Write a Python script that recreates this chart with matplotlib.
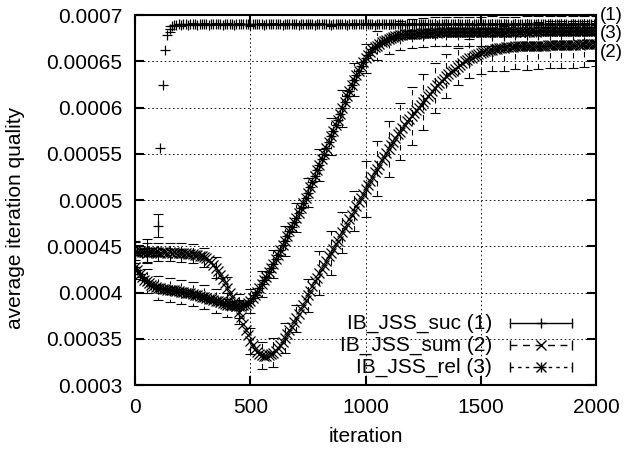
import numpy as np
import matplotlib
matplotlib.use("Agg")
import matplotlib.pyplot as plt
from matplotlib.ticker import FuncFormatter

plt.rcParams['font.family'] = ['Liberation Sans', 'DejaVu Sans']
plt.rcParams['font.size'] = 15

# iterations sampled every 10 steps, error bars drawn on every 5th sample
iteration = np.arange(0, 2001, 10)
ERR_EVERY = 5

# average iteration quality, in units of 1e-4
suc = [4.44, 4.45, 4.44, 4.43, 4.44, 4.45, 4.44, 4.44, 4.43, 4.44,
       4.72, 5.56, 6.24, 6.62, 6.78, 6.85, 6.88, 6.89, 6.89, 6.90,
       6.89, 6.90, 6.90, 6.89, 6.90, 6.90, 6.90, 6.89, 6.90, 6.90,
       6.90, 6.90, 6.89, 6.90, 6.90, 6.90, 6.90, 6.90, 6.89, 6.90,
       6.90, 6.90, 6.90, 6.89, 6.90, 6.90, 6.90, 6.90, 6.90, 6.90,
       6.89, 6.90, 6.90, 6.90, 6.90, 6.90, 6.89, 6.90, 6.90, 6.90,
       6.90, 6.90, 6.90, 6.90, 6.89, 6.90, 6.90, 6.90, 6.90, 6.90,
       6.90, 6.89, 6.90, 6.90, 6.90, 6.90, 6.90, 6.90, 6.89, 6.90,
       6.90, 6.90, 6.90, 6.90, 6.90, 6.89, 6.90, 6.90, 6.90, 6.90,
       6.90, 6.90, 6.89, 6.90, 6.90, 6.90, 6.90, 6.90, 6.90, 6.90,
       6.90, 6.90, 6.90, 6.90, 6.89, 6.90, 6.90, 6.90, 6.90, 6.90,
       6.90, 6.90, 6.90, 6.90, 6.90, 6.90, 6.90, 6.89, 6.90, 6.90,
       6.90, 6.90, 6.90, 6.90, 6.90, 6.90, 6.90, 6.90, 6.90, 6.90,
       6.90, 6.89, 6.90, 6.90, 6.90, 6.90, 6.90, 6.90, 6.90, 6.90,
       6.90, 6.90, 6.90, 6.90, 6.90, 6.90, 6.89, 6.90, 6.90, 6.90,
       6.90, 6.90, 6.90, 6.90, 6.90, 6.90, 6.90, 6.90, 6.90, 6.90,
       6.90, 6.90, 6.90, 6.89, 6.90, 6.90, 6.90, 6.90, 6.90, 6.90,
       6.90, 6.90, 6.90, 6.90, 6.90, 6.90, 6.90, 6.90, 6.90, 6.90,
       6.90, 6.90, 6.90, 6.90, 6.90, 6.90, 6.90, 6.90, 6.89, 6.90,
       6.90, 6.90, 6.90, 6.90, 6.90, 6.90, 6.90, 6.90, 6.90, 6.90,
       6.90]

summ = [4.45, 4.44, 4.45, 4.44, 4.44, 4.43, 4.44, 4.44, 4.45, 4.44,
        4.44, 4.43, 4.44, 4.44, 4.43, 4.44, 4.43, 4.44, 4.43, 4.43,
        4.43, 4.43, 4.43, 4.42, 4.42, 4.42, 4.41, 4.41, 4.40, 4.39,
        4.38, 4.37, 4.35, 4.33, 4.30, 4.27, 4.23, 4.19, 4.15, 4.10,
        4.05, 4.00, 3.95, 3.90, 3.85, 3.79, 3.73, 3.66, 3.60, 3.54,
        3.48, 3.43, 3.39, 3.36, 3.34, 3.32, 3.31, 3.31, 3.32, 3.33,
        3.35, 3.37, 3.40, 3.43, 3.47, 3.51, 3.55, 3.59, 3.63, 3.68,
        3.72, 3.77, 3.82, 3.87, 3.92, 3.97, 4.02, 4.07, 4.12, 4.16,
        4.21, 4.25, 4.30, 4.34, 4.39, 4.43, 4.47, 4.52, 4.56, 4.61,
        4.65, 4.70, 4.74, 4.79, 4.84, 4.88, 4.93, 4.98, 5.02, 5.07,
        5.12, 5.16, 5.21, 5.25, 5.30, 5.34, 5.38, 5.43, 5.47, 5.51,
        5.55, 5.59, 5.63, 5.67, 5.71, 5.74, 5.78, 5.81, 5.85, 5.88,
        5.91, 5.94, 5.97, 6.00, 6.03, 6.06, 6.09, 6.12, 6.15, 6.18,
        6.21, 6.24, 6.26, 6.29, 6.31, 6.34, 6.36, 6.38, 6.40, 6.42,
        6.44, 6.46, 6.48, 6.50, 6.51, 6.53, 6.54, 6.56, 6.57, 6.58,
        6.59, 6.60, 6.61, 6.61, 6.62, 6.62, 6.63, 6.63, 6.64, 6.64,
        6.64, 6.65, 6.65, 6.65, 6.65, 6.66, 6.66, 6.66, 6.66, 6.66,
        6.66, 6.67, 6.67, 6.67, 6.67, 6.67, 6.67, 6.67, 6.67, 6.68,
        6.68, 6.68, 6.68, 6.68, 6.68, 6.68, 6.68, 6.68, 6.68, 6.68,
        6.68, 6.68, 6.69, 6.68, 6.69, 6.69, 6.69, 6.69, 6.69, 6.69,
        6.69]

rel = [4.28, 4.24, 4.20, 4.17, 4.14, 4.12, 4.10, 4.08, 4.07, 4.06,
       4.05, 4.05, 4.04, 4.04, 4.03, 4.03, 4.03, 4.03, 4.02, 4.02,
       4.01, 4.01, 4.00, 4.00, 3.99, 3.98, 3.97, 3.97, 3.96, 3.95,
       3.95, 3.94, 3.93, 3.93, 3.92, 3.91, 3.91, 3.90, 3.89, 3.88,
       3.87, 3.87, 3.86, 3.86, 3.85, 3.85, 3.85, 3.86, 3.87, 3.89,
       3.91, 3.94, 3.97, 4.01, 4.05, 4.09, 4.13, 4.17, 4.22, 4.26,
       4.31, 4.36, 4.41, 4.46, 4.51, 4.56, 4.61, 4.66, 4.71, 4.76,
       4.81, 4.86, 4.91, 4.97, 5.02, 5.08, 5.14, 5.20, 5.26, 5.32,
       5.38, 5.44, 5.50, 5.56, 5.63, 5.69, 5.75, 5.81, 5.87, 5.93,
       5.99, 6.06, 6.12, 6.18, 6.24, 6.30, 6.35, 6.40, 6.45, 6.49,
       6.53, 6.57, 6.60, 6.63, 6.65, 6.67, 6.69, 6.71, 6.72, 6.73,
       6.74, 6.75, 6.76, 6.77, 6.77, 6.78, 6.78, 6.79, 6.79, 6.79,
       6.80, 6.80, 6.80, 6.80, 6.81, 6.81, 6.81, 6.81, 6.81, 6.81,
       6.82, 6.81, 6.82, 6.82, 6.82, 6.82, 6.82, 6.82, 6.82, 6.82,
       6.82, 6.82, 6.82, 6.82, 6.82, 6.82, 6.82, 6.82, 6.82, 6.82,
       6.82, 6.82, 6.82, 6.82, 6.82, 6.83, 6.82, 6.82, 6.82, 6.82,
       6.82, 6.82, 6.83, 6.82, 6.82, 6.82, 6.83, 6.82, 6.83, 6.82,
       6.83, 6.82, 6.83, 6.83, 6.82, 6.83, 6.83, 6.83, 6.83, 6.83,
       6.83, 6.83, 6.83, 6.83, 6.83, 6.83, 6.83, 6.83, 6.83, 6.83,
       6.83, 6.83, 6.83, 6.83, 6.83, 6.83, 6.83, 6.83, 6.83, 6.83,
       6.83]

# error bar half-widths at iterations 0, 50, ..., 2000 (units of 1e-4)
suc_err = [0.12, 0.13, 0.125, 0.03, 0.01, 0.01, 0.01, 0.01, 0.01, 0.01,
           0.01, 0.01, 0.01, 0.01, 0.01, 0.01, 0.01, 0.01, 0.01, 0.01,
           0.01, 0.01, 0.01, 0.01, 0.01, 0.01, 0.01, 0.01, 0.01, 0.01,
           0.01, 0.01, 0.01, 0.01, 0.01, 0.01, 0.01, 0.01, 0.01, 0.01,
           0.01]
summ_err = [0.10, 0.10, 0.10, 0.10, 0.10, 0.10, 0.10, 0.11, 0.12, 0.13,
            0.14, 0.15, 0.16, 0.16, 0.15, 0.18, 0.24, 0.24, 0.22, 0.22,
            0.30, 0.30, 0.30, 0.31, 0.31, 0.30, 0.27, 0.24, 0.20, 0.21,
            0.23, 0.23, 0.24, 0.24, 0.25, 0.25, 0.25, 0.25, 0.25, 0.25,
            0.24]
rel_err = [0.13, 0.13, 0.13, 0.13, 0.13, 0.13, 0.13, 0.13, 0.13, 0.13,
           0.13, 0.14, 0.15, 0.16, 0.16, 0.16, 0.17, 0.20, 0.20, 0.18,
           0.16, 0.16, 0.16, 0.16, 0.16, 0.16, 0.16, 0.16, 0.16, 0.16,
           0.16, 0.16, 0.16, 0.16, 0.16, 0.16, 0.16, 0.16, 0.16, 0.16,
           0.16]

labels = ['IB_JSS_suc (1)', 'IB_JSS_sum (2)', 'IB_JSS_rel (3)']
end_labels = ['(1)', '(3)', '(2)']
end_label_y = [7.00e-4, 6.80e-4, 6.60e-4]
yticks = [0.0003, 0.00035, 0.0004, 0.00045, 0.0005, 0.00055, 0.0006, 0.00065, 0.0007]
xticks = [0, 500, 1000, 1500, 2000]

markers = [['+'], ['x'], ['+', 'x']]
dashes = ['-', (0, (5, 4)), (0, (2.5, 3))]

fig = plt.figure(figsize=(6.25, 4.51), dpi=100)
ax = fig.add_axes([0.216, 0.1463, 0.7376, 0.8204])


def plot_series(vals, errs, mk, dash):
    y = np.array(vals) * 1e-4
    for m in mk:
        ax.plot(iteration, y, ls='none', marker=m, ms=7, mew=0.9, color='k')
    eb = ax.errorbar(iteration[::ERR_EVERY], y[::ERR_EVERY], yerr=np.array(errs) * 1e-4,
                     fmt='none', ecolor='k', elinewidth=0.8, capsize=3.5, capthick=0.8)
    eb[2][0].set_linestyle(dash)


for vals, errs, mk, dash in zip([suc, summ, rel], [suc_err, summ_err, rel_err], markers, dashes):
    plot_series(vals, errs, mk, dash)

ax.set_xlim(0, 2000)
ax.set_ylim(0.0003, 0.0007)
ax.set_xticks(xticks)
ax.set_yticks(yticks)
ax.yaxis.set_major_formatter(FuncFormatter(lambda v, p: f"{v:.5f}".rstrip('0')))
ax.tick_params(direction='in', length=6.5, width=1.5, top=True, right=True, pad=9)
ax.grid(True, color='k', ls=(0, (2, 3)), lw=0.6)
ax.set_axisbelow(True)
for s in ax.spines.values():
    s.set_linewidth(1.5)

# curve labels to the right of the plot
for lab, yv in zip(end_labels, end_label_y):
    ax.annotate(lab, xy=(1, yv), xycoords=('axes fraction', 'data'), xytext=(3, 0),
                textcoords='offset points', ha='left', va='center', fontsize=13.5,
                annotation_clip=False)

# gnuplot style key, bottom right
for i, (lab, mk, dash) in enumerate(zip(labels, markers, dashes)):
    yk = 0.1676 - i * 0.0595
    ax.text(0.774, yk, lab, transform=ax.transAxes, ha='right', va='center')
    ax.plot([0.813, 0.948], [yk, yk], transform=ax.transAxes, color='k', lw=1, ls=dash)
    ax.plot([0.813, 0.948], [yk, yk], transform=ax.transAxes, ls='none', marker='|',
            ms=7, mew=1, color='k')
    for m in mk:
        ax.plot([0.8805], [yk], transform=ax.transAxes, ls='none', marker=m, ms=7, mew=1, color='k')

fig.text(16 / 625, 1 - 218 / 451, 'average iteration quality',
         rotation=90, ha='center', va='center')
fig.text(366 / 625, 1 - 437 / 451, 'iteration', ha='center', va='center')

fig.savefig('out.png', dpi=100)
